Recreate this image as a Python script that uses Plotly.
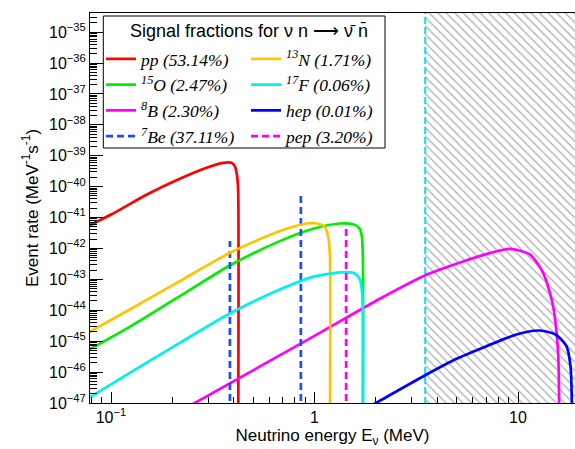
import plotly.graph_objects as go

# ---------------- data ----------------
pp_E = [0.078, 0.1024, 0.1494, 0.2178, 0.2946, 0.3556, 0.3910, 0.4058, 0.4166, 0.4213, 0.4218]
pp_R = [5.5e-42, 1.36e-41, 5.47e-41, 1.80e-40, 4.09e-40, 5.93e-40, 5.93e-40, 4.60e-40, 2.19e-40, 8.13e-41, 1e-48]

n13_E = [0.078, 0.1237, 0.2178, 0.3836, 0.5591, 0.7286, 0.9136, 1.0228, 1.1236, 1.1665, 1.189, 1.1895]
n13_R = [1.96e-45, 1.06e-44, 8.77e-44, 7.24e-43, 2.21e-42, 4.34e-42, 6.44e-42, 6.44e-42, 5.02e-42, 2.51e-42, 7.24e-43, 1e-48]

o15_E = [0.078, 0.1237, 0.2178, 0.3836, 0.6752, 0.9842, 1.331, 1.5475, 1.656, 1.708, 1.727, 1.728]
o15_R = [5.38e-46, 2.92e-45, 2.86e-44, 2.82e-43, 1.73e-42, 4.34e-42, 6.44e-42, 6.12e-42, 4.67e-42, 2.51e-42, 7.24e-43, 1e-48]

f17_E = [0.078, 0.1237, 0.2178, 0.3836, 0.6752, 0.9842, 1.382, 1.578, 1.670, 1.708, 1.727, 1.728]
f17_R = [1.47e-47, 9.46e-47, 8.85e-46, 7.87e-45, 4.71e-44, 1.21e-43, 1.71e-43, 1.55e-43, 9.93e-44, 4.71e-44, 1.36e-44, 1e-48]

b8_E = [0.25, 1.0, 2.094, 3.484, 5.373, 7.266, 9.114, 11.43, 13.29, 14.88, 15.74, 15.92, 15.93]
b8_R = [8.9e-48, 1.48e-45, 2.36e-44, 1.34e-43, 3.8e-43, 7.08e-43, 9.77e-43, 6.40e-43, 1.63e-43, 1.36e-44, 4.22e-46, 1.30e-47, 1e-48]

hep_E = [1.95, 2.054, 3.484, 4.986, 7.0, 9.83, 12.56, 15.30, 17.31, 18.11, 18.38, 18.39]
hep_R = [9.1e-48, 1.10e-47, 7.76e-47, 2.69e-46, 6.89e-46, 1.65e-45, 2.22e-45, 1.65e-45, 6.89e-46, 1.55e-46, 1.30e-47, 1e-48]

# mono-energetic lines: energy and height
be7_E = [0.384, 0.857]
be7_R = [1.74e-42, 6.35e-41]
pep_E = [1.43]
pep_R = [5.0e-42]

line_floor = 1e-48
threshold_E = 3.5          # start of hatched (excluded) region, MeV
hatch_top = 1e-33
hatch_right = 30.0

x_tick_vals = [0.1, 1, 10]
x_tick_text = ["10<sup>\u22121</sup>", "1", "10"]
y_tick_exps = list(range(-47, -34))
y_tick_vals = [10.0 ** p for p in y_tick_exps]
y_tick_text = ["10<sup>\u2212%d</sup>" % (-p) for p in y_tick_exps]

labels = {
    "pp": "pp (53.14%)",
    "n13": "<sup>13</sup>N (1.71%)",
    "o15": "<sup>15</sup>O (2.47%)",
    "f17": "<sup>17</sup>F (0.06%)",
    "b8": "<sup>8</sup>B (2.30%)",
    "hep": "hep (0.01%)",
    "be7": "<sup>7</sup>Be (37.11%)",
    "pep": "pep (3.20%)",
}
legend_title = "Signal fractions for \u03bd n \u27f6 \u03bd\u0304 n\u0304"

# ---------------- geometry ----------------
W, H = 575, 449
ML, MR, MT, MB = 90, 0, 13, 46
PW, PH = W - ML - MR, H - MT - MB


def px(x):
    return (x - ML) / PW


def py(y):
    return (H - MB - y) / PH


fig = go.Figure()

# hatched region above threshold
fig.add_trace(go.Scatter(
    x=[threshold_E, hatch_right, hatch_right, threshold_E, threshold_E],
    y=[line_floor, line_floor, hatch_top, hatch_top, line_floor],
    mode="lines", line=dict(width=0), fill="toself",
    fillcolor="rgba(0,0,0,0)",
    fillpattern=dict(shape="\\", fgcolor="#606060", bgcolor="rgba(255,255,255,0)",
                     size=6, solidity=0.22),
    showlegend=False, hoverinfo="skip"))

fig.add_trace(go.Scatter(
    x=[threshold_E, threshold_E], y=[line_floor, hatch_top], mode="lines",
    line=dict(color="#00e5ee", width=2, dash="7px,3px"),
    showlegend=False, hoverinfo="skip"))

LW = 2.7


def curve(E, R, color, name, legend, dash=None, smooth=True):
    line = dict(color=color, width=LW, dash=dash)
    if smooth:
        line.update(shape="spline", smoothing=0.7)
    fig.add_trace(go.Scatter(x=E, y=R, mode="lines", name=name, legend=legend,
                             line=line))


def spikes(E, R):
    xs, ys = [], []
    for e, r in zip(E, R):
        xs += [e, e, None]
        ys += [line_floor, r, None]
    return xs, ys


curve(pp_E, pp_R, "#ff0000", labels["pp"], "legend")
curve(o15_E, o15_R, "#00ee00", labels["o15"], "legend")
curve(b8_E, b8_R, "#ff00ff", labels["b8"], "legend")
bx, by = spikes(be7_E, be7_R)
curve(bx, by, "#1a4dff", labels["be7"], "legend", dash="7px,4px", smooth=False)

curve(n13_E, n13_R, "#ffc400", labels["n13"], "legend2")
curve(f17_E, f17_R, "#00f0f0", labels["f17"], "legend2")
curve(hep_E, hep_R, "#0000ff", labels["hep"], "legend2")
qx, qy = spikes(pep_E, pep_R)
curve(qx, qy, "#ff00ff", labels["pep"], "legend2", dash="7px,4px", smooth=False)

axis_font = dict(family="Liberation Sans, Arial, sans-serif", size=16, color="black")
title_font = dict(family="Liberation Sans, Arial, sans-serif", size=17, color="black")
ltitle_font = dict(family="Liberation Sans, Arial, sans-serif", size=18, color="black")
leg_font = dict(family="Liberation Serif, Times New Roman, serif", size=17.5, color="black",
                style="italic")

x_minor = [k * 10.0 ** p for p in range(-2, 2) for k in range(2, 10)]
y_minor = [k * 10.0 ** p for p in range(-48, -33) for k in range(2, 10)]

fig.update_layout(
    width=W, height=H,
    margin=dict(l=ML, r=MR, t=MT, b=MB, pad=0, autoexpand=False),
    paper_bgcolor="white", plot_bgcolor="white",
    xaxis=dict(type="log", range=[-1.1032, 1.2801], automargin=False,
               tickmode="array", tickvals=x_tick_vals, ticktext=x_tick_text,
               ticks="inside", ticklen=11, tickwidth=1, tickcolor="black",
               showline=True, linecolor="black", linewidth=1, mirror=True,
               showgrid=False, zeroline=False, tickfont=axis_font,
               minor=dict(ticks="inside", ticklen=6, tickwidth=1, tickcolor="black",
                          tickvals=x_minor, showgrid=False),
               title=dict(text="Neutrino energy E<sub>\u03bd</sub> (MeV)", font=title_font,
                          standoff=2)),
    yaxis=dict(type="log", range=[-47, -34.38], automargin=False,
               tickmode="array", tickvals=y_tick_vals, ticktext=y_tick_text,
               ticks="inside", ticklen=13, tickwidth=1, tickcolor="black",
               showline=True, linecolor="black", linewidth=1, mirror=False,
               showgrid=False, zeroline=False, tickfont=axis_font,
               minor=dict(ticks="inside", ticklen=7, tickwidth=1, tickcolor="black",
                          tickvals=y_minor, showgrid=False),
               title=dict(text="Event rate (MeV<sup>-1</sup>s<sup>-1</sup>)", font=title_font,
                          standoff=6)),
    legend=dict(x=px(101), y=py(41), xanchor="left", yanchor="top",
                bgcolor="rgba(0,0,0,0)", borderwidth=0, font=leg_font,
                traceorder="normal", itemwidth=30),
    legend2=dict(x=px(246), y=py(41), xanchor="left", yanchor="top",
                 bgcolor="rgba(0,0,0,0)", borderwidth=0, font=leg_font,
                 traceorder="normal", itemwidth=30),
    shapes=[dict(type="rect", xref="paper", yref="paper",
                 x0=px(103.3), x1=px(385), y0=py(148), y1=py(16),
                 line=dict(color="black", width=1), fillcolor="white", layer="below")],
    annotations=[dict(text=legend_title, xref="paper", yref="paper",
                      x=px(249), y=py(31), xanchor="center", yanchor="middle",
                      showarrow=False, font=ltitle_font)],
)

fig.write_html("out.html", config={"displayModeBar": False},
               post_script="document.body.style.margin='0px';")
